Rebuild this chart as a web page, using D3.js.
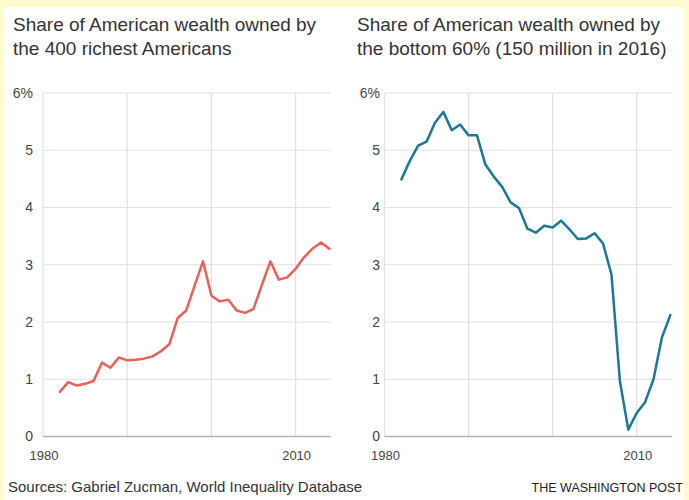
<!DOCTYPE html>
<html><head><meta charset="utf-8">
<script src="https://cdn.jsdelivr.net/npm/d3@7/dist/d3.min.js"></script>
<style>
html,body{margin:0;padding:0;background:#fffbcc;}
svg{display:block;}
text{font-family:"Liberation Sans",Arial,sans-serif;}
</style>
</head><body>
<svg id="chart" width="689" height="500"></svg>
<script>
// ---- data ----
const years = [1982,1983,1984,1985,1986,1987,1988,1989,1990,1991,1992,1993,1994,1995,1996,1997,1998,1999,2000,2001,2002,2003,2004,2005,2006,2007,2008,2009,2010,2011,2012,2013,2014];
const top400Share = [0.78,0.95,0.89,0.92,0.97,1.29,1.20,1.38,1.33,1.34,1.36,1.40,1.49,1.61,2.07,2.20,2.63,3.06,2.46,2.36,2.39,2.20,2.16,2.23,2.65,3.06,2.74,2.78,2.93,3.13,3.28,3.39,3.28];
const bottom60Share = [4.49,4.81,5.08,5.15,5.48,5.67,5.35,5.45,5.26,5.26,4.75,4.54,4.36,4.09,3.99,3.63,3.56,3.68,3.65,3.77,3.62,3.45,3.46,3.55,3.37,2.83,0.97,0.12,0.41,0.60,1.00,1.73,2.12];
const yTicks = [0,1,2,3,4,5,6];
const yTickLabels = ["0","1","2","3","4","5","6%"];
const xGridYears = [1980,1990,2000,2010];
const xLabelYears = [1980,2010];
const leftTitle = ["Share of American wealth owned by","the 400 richest Americans"];
const rightTitle = ["Share of American wealth owned by","the bottom 60% (150 million in 2016)"];
const sourceText = "Sources: Gabriel Zucman, World Inequality Database";
const creditText = "THE WASHINGTON POST";

const svg = d3.select("#chart");
svg.append("rect").attr("x",4).attr("y",7).attr("width",680).attr("height",493).attr("fill","#fff");

const y = d3.scaleLinear().domain([0,6]).range([436.5,93]);

const panels = [
  {values: top400Share, title: leftTitle, color:"#e8605a", x0:43, x1:331, labelX:33, titleX:13},
  {values: bottom60Share, title: rightTitle, color:"#1b7896", x0:384.5, x1:672, labelX:380, titleX:357}
];

panels.forEach(p => {
  const x = d3.scaleLinear().domain([1980, 2014.2]).range([p.x0, p.x1]);
  const g = svg.append("g");
  // title
  const t = g.append("text").attr("x", p.titleX).attr("y", 31)
    .attr("font-size", 19).attr("fill", "#333");
  p.title.forEach((line,i) => t.append("tspan").attr("x", p.titleX).attr("dy", i ? 24 : 0).text(line));
  // horizontal gridlines
  g.selectAll(".hg").data(yTicks.filter(d => d > 0)).enter().append("line")
    .attr("x1", p.x0).attr("x2", p.x1).attr("y1", d => y(d)).attr("y2", d => y(d))
    .attr("stroke", "#e1e1e1").attr("stroke-width", 1.2);
  // vertical gridlines
  g.selectAll(".vg").data(xGridYears).enter().append("line")
    .attr("x1", d => x(d)).attr("x2", d => x(d)).attr("y1", y(6)).attr("y2", y(0))
    .attr("stroke", "#e1e1e1").attr("stroke-width", 1.2);
  // baseline
  g.append("line").attr("x1", p.x0).attr("x2", p.x1).attr("y1", y(0)).attr("y2", y(0))
    .attr("stroke", "#b5b5b5").attr("stroke-width", 1.5);
  // y labels
  g.selectAll(".yl").data(yTicks).enter().append("text")
    .attr("x", p.labelX).attr("y", d => y(d)).attr("dy", "0.35em")
    .attr("text-anchor", "end").attr("font-size", 14).attr("fill", "#444")
    .text((d,i) => yTickLabels[i]);
  // x labels
  g.selectAll(".xl").data(xLabelYears).enter().append("text")
    .attr("x", d => x(d) + 1).attr("y", 460)
    .attr("text-anchor", "middle").attr("font-size", 13).attr("fill", "#444")
    .text(d => String(d));
  // line
  const line = d3.line().x((d,i) => x(years[i])).y(d => y(d));
  g.append("path").datum(p.values).attr("d", line)
    .attr("fill", "none").attr("stroke", p.color).attr("stroke-width", 2.5)
    .attr("stroke-linejoin", "round").attr("stroke-linecap", "round");
});

svg.append("text").attr("x", 8).attr("y", 492).attr("font-size", 15).attr("fill", "#333").text(sourceText);
svg.append("text").attr("x", 683).attr("y", 492).attr("text-anchor", "end").attr("font-size", 12.5).attr("fill", "#222").text(creditText);
</script>
</body></html>
